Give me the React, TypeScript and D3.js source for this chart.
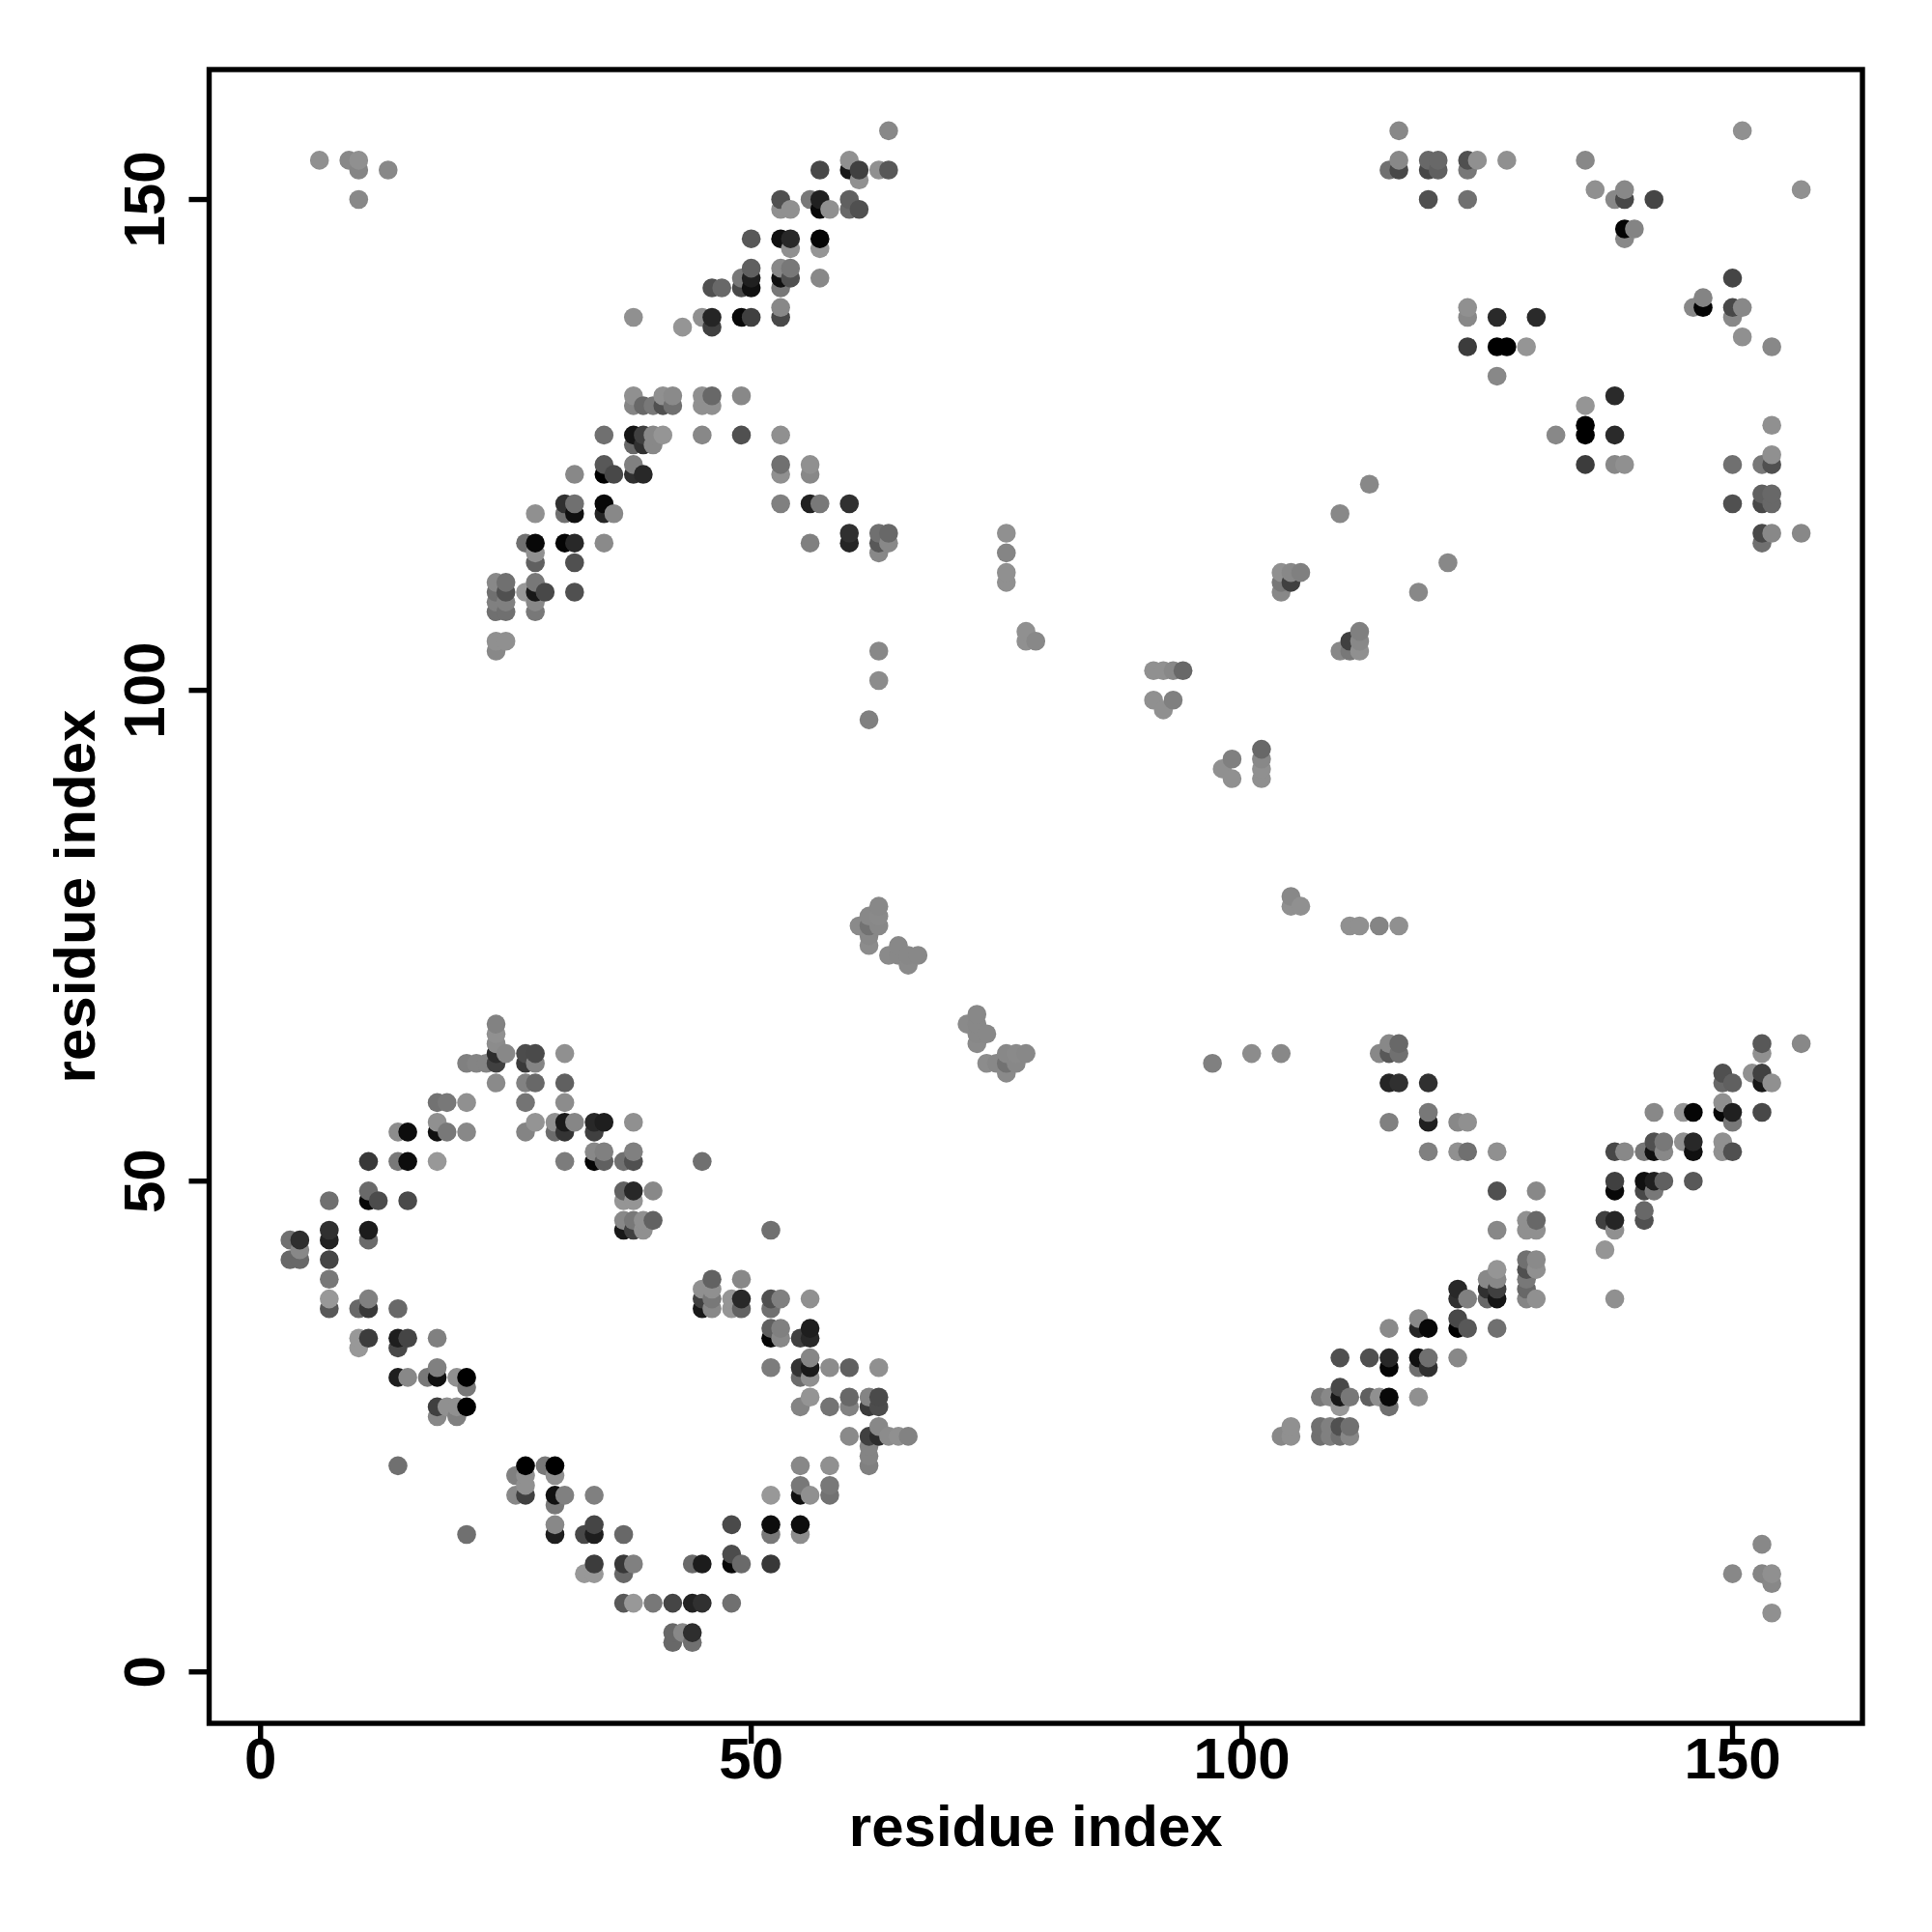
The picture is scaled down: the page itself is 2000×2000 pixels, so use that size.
import React from "react";
import * as d3 from "d3";

// Contact pairs: [residue a, residue b, grey level]; the map is symmetric, each pair is drawn at (a,b) and (b,a).
type C = [number, number, number];

const nearContacts: C[] = [
  [3,42,0x68],[3,44,0x70],[4,42,0x68],[4,43,0x88],[4,44,0x2e],
  [7,37,0x58],[7,38,0x98],[7,40,0x78],[7,42,0x45],[7,44,0x22],[7,45,0x30],[7,48,0x70],
  [10,33,0x98],[10,34,0x98],[10,37,0x68],
  [11,34,0x3c],[11,37,0x38],[11,38,0x80],[11,44,0x6a],[11,45,0x1c],[11,48,0x08],[11,49,0x6a],[11,52,0x38],
  [12,48,0x4c],
  [14,21,0x70],[14,30,0x1e],[14,33,0x48],[14,34,0x1e],[14,37,0x68],[14,52,0x78],[14,55,0x8c],
  [15,30,0x88],[15,34,0x45],[15,48,0x4a],[15,52,0x0d],[15,55,0x0d],
  [17,30,0x78],[18,26,0x88],[18,27,0x40],[18,30,0x10],[18,31,0x80],[18,34,0x80],[18,52,0x98],[18,55,0x10],[18,56,0x90],[18,58,0x72],
  [19,27,0x90],[19,55,0x78],[19,58,0x78],
  [20,26,0x80],[20,27,0x90],[20,30,0x90],
  [21,27,0x00],[21,29,0x78],[21,30,0x00],[21,55,0x88],[21,58,0x90],[21,62,0x80],
  [22,62,0x84],[23,62,0x84],
  [24,60,0x8a],[24,62,0x40],[24,63,0x2c],[24,64,0x8c],[24,65,0x90],[24,66,0x82],
  [25,63,0x88],
  [27,55,0x84],[27,58,0x74],[27,60,0x82],[27,62,0x3a],[27,63,0x4c],
  [28,56,0x94],[28,60,0x68],[28,62,0x84],[28,63,0x4a],
  [30,55,0x6c],[30,56,0x90],
  [31,52,0x7c],[31,55,0x34],[31,56,0x1a],[31,58,0x8c],[31,60,0x60],[31,63,0x90],
  [32,56,0x86],
  [34,52,0x06],[34,53,0x88],[34,55,0x40],[34,56,0x28],
  [35,52,0x60],[35,53,0x80],[35,56,0x1e],
  [37,45,0x18],[37,46,0x88],[37,48,0x95],[37,49,0x62],[37,52,0x70],
  [38,45,0x40],[38,46,0x78],[38,48,0x95],[38,49,0x28],[38,52,0x50],[38,53,0x80],[38,56,0x90],
  [39,45,0x90],[39,46,0x90],[40,46,0x62],[40,49,0x88],
  [45,52,0x70],
];

const crossContacts: C[] = [
  [6,154,0x90],[9,154,0x88],[10,150,0x88],[10,153,0x85],[10,154,0x90],[13,153,0x88],
  [24,104,0x88],[24,105,0x90],[24,108,0x70],[24,109,0x80],[24,110,0x70],[24,111,0x88],
  [25,105,0x90],[25,108,0x70],[25,109,0x80],[25,110,0x50],[25,111,0x70],
  [27,110,0x98],[27,115,0x70],
  [28,108,0x78],[28,109,0x88],[28,110,0x18],[28,111,0x78],[28,113,0x60],[28,114,0x90],[28,115,0x08],[28,118,0x90],
  [29,110,0x48],
  [31,115,0x05],[31,118,0x70],[31,119,0x30],
  [32,110,0x50],[32,113,0x50],[32,115,0x28],[32,118,0x10],[32,119,0x70],[32,122,0x88],
  [35,115,0x8a],[35,118,0x25],[35,119,0x08],[35,122,0x00],[35,123,0x58],[35,126,0x70],
  [36,118,0x88],[36,122,0x48],
  [38,122,0x30],[38,123,0x80],[38,125,0x68],[38,126,0x15],[38,129,0x85],[38,130,0x90],[38,138,0x90],
  [39,122,0x28],[39,125,0x30],[39,126,0x40],[39,129,0x68],
  [40,125,0x88],[40,126,0x88],[40,129,0x78],
  [41,126,0x95],[41,129,0x50],[41,130,0x90],
  [42,129,0x70],[42,130,0x8a],[43,137,0x95],
  [45,126,0x88],[45,129,0x90],[45,130,0x90],[45,138,0x90],
  [46,129,0x90],[46,130,0x68],[46,137,0x40],[46,138,0x25],[46,141,0x50],
  [47,141,0x68],
  [49,126,0x50],[49,130,0x88],[49,138,0x08],[49,141,0x48],[49,142,0x78],
  [50,138,0x40],[50,141,0x10],[50,142,0x20],[50,143,0x60],[50,146,0x58],
  [53,119,0x80],[53,122,0x90],[53,123,0x70],[53,126,0x90],[53,138,0x48],[53,139,0x88],[53,141,0x78],[53,142,0x10],[53,143,0x88],[53,146,0x10],[53,149,0x90],[53,150,0x50],
  [54,142,0x50],[54,143,0x78],[54,145,0x90],[54,146,0x28],[54,149,0x90],
  [56,115,0x80],[56,119,0x20],[56,122,0x88],[56,123,0x90],[56,150,0x78],
  [57,119,0x78],[57,142,0x88],[57,145,0x95],[57,146,0x05],[57,149,0x08],[57,150,0x20],[57,153,0x48],
  [58,149,0x90],
  [60,115,0x25],[60,116,0x30],[60,119,0x30],[60,149,0x68],[60,150,0x60],[60,153,0x18],[60,154,0x90],
  [61,149,0x50],[61,152,0x90],[61,153,0x40],
  [63,114,0x88],[63,115,0x58],[63,116,0x70],[63,153,0x90],
  [64,115,0x88],[64,116,0x68],[64,153,0x58],[64,157,0x88],
];

const midContacts: C[] = [
  [61,76,0x8a],[62,74,0x8c],[62,75,0x88],[62,76,0x72],[62,77,0x88],
  [63,76,0x88],[63,77,0x8a],[63,78,0x88],[64,73,0x8a],[65,73,0x88],[65,74,0x88],
  [66,72,0x8a],[66,73,0x88],[67,73,0x88],
  [62,97,0x80],[63,101,0x8c],[63,104,0x88],
  [76,111,0x90],[76,112,0x90],[76,114,0x85],[76,116,0x90],
  [78,105,0x90],[78,106,0x90],[79,105,0x88],
  [91,99,0x90],[91,102,0x90],[92,98,0x90],[92,102,0x90],[93,99,0x80],[93,102,0x88],[94,102,0x68],
  [91,102,0x90],[92,102,0x90],[93,102,0x88],
  [91,99,0x90],[93,99,0x85],[92,98,0x90],
  [104,110,0x88],[104,111,0x78],[104,112,0x90],[105,111,0x40],[105,112,0x88],[106,112,0x80],
  [110,118,0x88],[113,121,0x88],
];

const farContacts: C[] = [
  [115,153,0x70],[116,153,0x48],[116,154,0x88],[116,157,0x88],
  [119,150,0x50],[119,153,0x48],[119,154,0x68],[120,153,0x60],[120,154,0x68],
  [123,135,0x3c],[123,138,0x88],[123,139,0x90],[123,150,0x70],[123,153,0x78],[123,154,0x50],
  [124,154,0x90],[126,132,0x88],[126,135,0x00],[126,138,0x2a],[127,135,0x00],[127,154,0x90],
  [129,135,0x95],[130,138,0x2a],[135,154,0x88],[136,151,0x90],[138,150,0x88],
  [139,146,0x88],[139,147,0x04],[139,150,0x48],[139,151,0x88],[140,147,0x84],[142,150,0x45],[151,157,0x90],
];

const tickValues = [0, 50, 100, 150];
const axisTitle = "residue index";
const domain: [number, number] = [-5.24, 163.24];

const L = 216.5, R = 1928, T = 72, B = 1784;
const SW = 5.4;
const FONT = "'Liberation Sans', Arial, sans-serif";

export default function App() {
  const x = d3.scaleLinear().domain(domain).range([L, R]);
  const y = d3.scaleLinear().domain(domain).range([B, T]);
  const all = [...nearContacts, ...crossContacts, ...midContacts, ...farContacts];
  const seen = new Set<string>();
  const pts: C[] = [];
  for (const [a, b, g] of all) {
    for (const p of [[a, b, g], [b, a, g]] as C[]) {
      const k = p[0] + "," + p[1];
      if (!seen.has(k)) { seen.add(k); pts.push(p); }
    }
  }
  pts.sort((p, q) => d3.ascending(p[0], q[0]) || d3.ascending(p[1], q[1]));
  return (
    <svg width={2000} height={2000} style={{ position: "absolute", left: 0, top: 0, background: "#fff" }}>
      {pts.map(([a, b, g], i) => (
        <circle key={i} cx={x(a)} cy={y(b)} r={9.8} fill={d3.rgb(g, g, g).formatHex()} />
      ))}
      <rect x={L} y={T} width={R - L} height={B - T} fill="none" stroke="#000" strokeWidth={SW} />
      {tickValues.map((t) => (
        <g key={t}>
          <line x1={x(t)} x2={x(t)} y1={B} y2={B + 21} stroke="#000" strokeWidth={SW} />
          <line x1={L} x2={L - 21} y1={y(t)} y2={y(t)} stroke="#000" strokeWidth={SW} />
          <text x={x(t)} y={1841} textAnchor="middle" fontFamily={FONT} fontWeight="bold" fontSize={60}>{t}</text>
          <text transform={`translate(170 ${y(t)}) rotate(-90)`} textAnchor="middle" fontFamily={FONT} fontWeight="bold" fontSize={60}>{t}</text>
        </g>
      ))}
      <text x={(L + R) / 2} y={1911} textAnchor="middle" fontFamily={FONT} fontWeight="bold" fontSize={60}>{axisTitle}</text>
      <text transform={`translate(98 ${(T + B) / 2}) rotate(-90)`} textAnchor="middle" fontFamily={FONT} fontWeight="bold" fontSize={60}>{axisTitle}</text>
    </svg>
  );
}
